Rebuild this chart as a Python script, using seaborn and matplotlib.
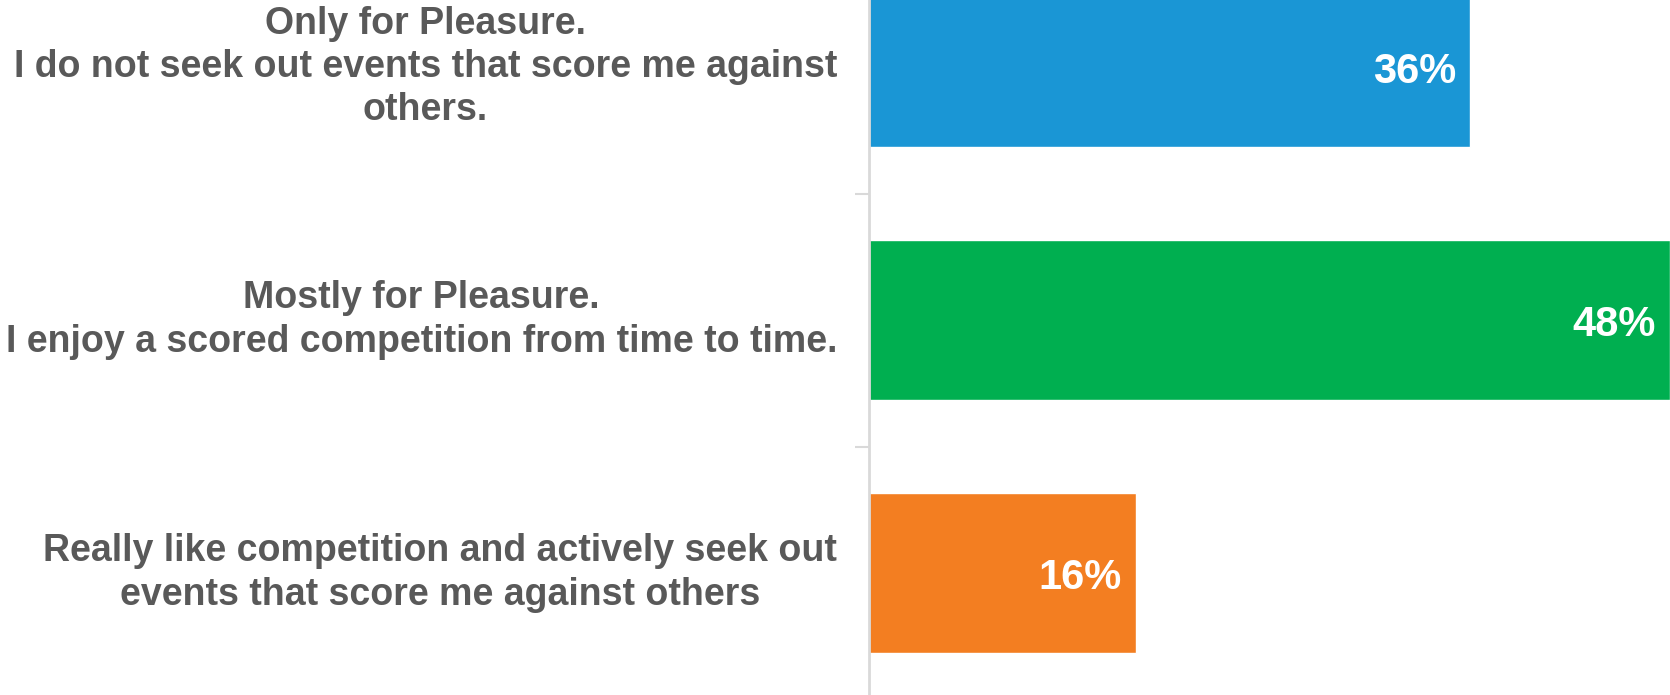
import matplotlib
matplotlib.use('Agg')
import matplotlib.pyplot as plt
import seaborn as sns
import pandas as pd

categories = [
    'Only for Pleasure.\nI do not seek out events that score me against\nothers.',
    'Mostly for Pleasure.\nI enjoy a scored competition from time to time.',
    'Really like competition and actively seek out\nevents that score me against others',
]
values = [36, 48, 16]
colors = ['#1A96D5', '#00AF50', '#F37E21']

sns.set_style('white')
plt.rcParams['font.family'] = ['Liberation Sans', 'DejaVu Sans']

data = pd.DataFrame({'answer': categories, 'pct': values})

fig = plt.figure(figsize=(16.7, 6.95), dpi=100)
ax = fig.add_axes([869 / 1670, 0, 1 - 869 / 1670, 1])

sns.barplot(data=data, y='answer', x='pct', hue='answer', palette=colors,
            orient='h', width=0.632, legend=False, ax=ax, saturation=1)

ax.set_xlabel('')
ax.set_ylabel('')
ax.set_xticks([])

# category labels
ax.set_yticks(range(len(categories)))
ax.set_yticklabels(categories, fontsize=27, fontweight='bold', color='#595959')
for lbl in ax.get_yticklabels():
    lbl.set_multialignment('center')
    lbl.set_linespacing(1.26)
    lbl.set_va('center')
ax.tick_params(axis='y', which='major', length=0, pad=23)
ax.set_yticks([-0.5, 0.5, 1.5, 2.5], minor=True)
ax.tick_params(axis='y', which='minor', left=True, length=10, width=1.5, color='#D9D9D9')

ax.set_xlim(0, 48)
ax.set_ylim(2.482, -0.265)

for side in ['top', 'right', 'bottom']:
    ax.spines[side].set_visible(False)
ax.spines['left'].set_color('#D9D9D9')
ax.spines['left'].set_linewidth(2)

for i, v in enumerate(values):
    ax.annotate(f'{v}%', xy=(v, i), xytext=(-10, 0), textcoords='offset points',
                ha='right', va='center_baseline', fontsize=30, fontweight='bold', color='white')

fig.savefig('out.png', dpi=100)
